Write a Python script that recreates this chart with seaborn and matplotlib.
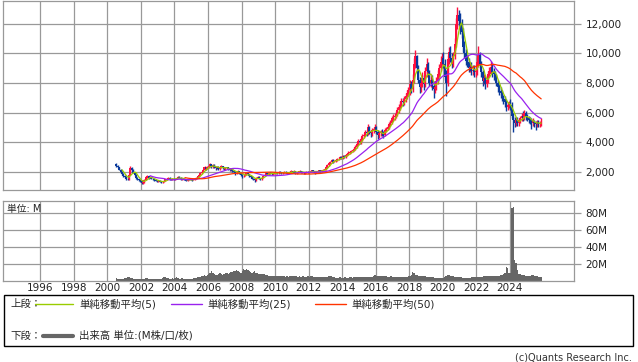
import numpy as np
import pandas as pd
import matplotlib
matplotlib.use("Agg")
import matplotlib.pyplot as plt
import seaborn as sns
from matplotlib.lines import Line2D
from matplotlib.patches import Rectangle
from matplotlib.ticker import FuncFormatter

# monthly candles (Jul 2000 - Nov 2025)
close_2000 = [2400, 2300, 2150, 2000, 1850, 1750]
close_2001 = [1650, 1550, 1500, 1800, 2250, 2150, 1950, 1800, 1600, 1500, 1450, 1380]
close_2002 = [1250, 1300, 1450, 1650, 1700, 1600, 1650, 1550, 1500, 1450, 1400, 1380]
close_2003 = [1400, 1350, 1300, 1320, 1400, 1500, 1550, 1600, 1500, 1480, 1550, 1500]
close_2004 = [1550, 1600, 1650, 1600, 1500, 1550, 1500, 1450, 1400, 1450, 1500, 1480]
close_2005 = [1450, 1500, 1550, 1600, 1700, 1800, 1900, 2000, 2150, 2300, 2200, 2350]
close_2006 = [2400, 2500, 2300, 2450, 2300, 2250, 2350, 2200, 2300, 2400, 2250, 2200]
close_2007 = [2250, 2300, 2200, 2100, 2200, 2050, 2000, 1900, 1950, 2050, 1900, 1800]
close_2008 = [1700, 1750, 1800, 1900, 1850, 1700, 1650, 1550, 1500, 1450, 1600, 1650]
close_2009 = [1550, 1500, 1600, 1750, 1800, 1900, 1850, 1950, 1900, 1850, 1900, 1950]
close_2010 = [1950, 1900, 2000, 1950, 1900, 1950, 2000, 1950, 1900, 1950, 2000, 2050]
close_2011 = [2000, 2050, 1900, 1950, 2000, 2050, 2000, 1950, 1900, 1950, 2000, 1980]
close_2012 = [2000, 2050, 2100, 2000, 1950, 2000, 2050, 2100, 2050, 2100, 2150, 2200]
close_2013 = [2300, 2450, 2600, 2650, 2800, 2700, 2750, 2800, 2850, 2900, 3000, 2950]
close_2014 = [3050, 3000, 3150, 3200, 3300, 3350, 3400, 3450, 3550, 3700, 3900, 4100]
close_2015 = [4000, 4200, 4400, 4500, 4700, 4600, 5000, 4700, 4600, 4800, 4900, 5000]
close_2016 = [4700, 4500, 4600, 4700, 4600, 4500, 4800, 4900, 5000, 5200, 5300, 5600]
close_2017 = [5700, 5800, 5900, 6150, 6400, 6500, 6800, 6700, 6900, 7100, 7300, 7500]
close_2018 = [7900, 7600, 8200, 9300, 9800, 9000, 8200, 7700, 8000, 8300, 7900, 8800]
close_2019 = [9300, 8700, 8000, 8200, 7800, 7600, 7700, 8100, 8600, 9000, 9400, 9700]
close_2020 = [9300, 8400, 8000, 9600, 10100, 9700, 9300, 9800, 10600, 12000, 12600, 12200]
close_2021 = [12000, 11400, 10400, 10000, 9500, 9400, 9000, 9100, 8800, 8900, 8700, 8800]
close_2022 = [9400, 9900, 9300, 8700, 8150, 8300, 7950, 8200, 8600, 8800, 9100, 8700]
close_2023 = [8600, 8350, 8000, 7700, 7480, 7300, 7040, 6900, 6700, 6370, 6500, 6600]
close_2024 = [6500, 5800, 5480, 5280, 5500, 5300, 5480, 5600, 5800, 5600, 5940, 5700]
close_2025 = [5600, 5500, 5480, 5300, 5400, 5280, 5200, 5350, 5250, 5300, 5370]
first_open = 2500

high_2000 = [2620, 2480, 2360, 2200, 2060, 1900]
high_2001 = [1820, 1700, 1600, 1850, 2380, 2300, 2200, 2000, 1850, 1650, 1550, 1500]
high_2002 = [1420, 1350, 1500, 1720, 1780, 1740, 1700, 1680, 1590, 1540, 1480, 1440]
high_2003 = [1450, 1440, 1380, 1360, 1440, 1550, 1600, 1660, 1640, 1540, 1590, 1580]
high_2004 = [1600, 1640, 1710, 1700, 1630, 1580, 1580, 1530, 1480, 1480, 1540, 1530]
high_2005 = [1510, 1540, 1590, 1650, 1750, 1860, 1960, 2060, 2220, 2400, 2360, 2420]
high_2006 = [2480, 2620, 2560, 2500, 2500, 2360, 2420, 2390, 2350, 2460, 2430, 2300]
high_2007 = [2310, 2360, 2340, 2250, 2260, 2240, 2110, 2050, 2000, 2110, 2090, 1950]
high_2008 = [1840, 1790, 1850, 1960, 1950, 1890, 1750, 1690, 1600, 1540, 1660, 1710]
high_2009 = [1690, 1580, 1650, 1790, 1860, 1960, 1950, 2000, 1990, 1940, 1950, 2000]
high_2010 = [2010, 1990, 2040, 2050, 1990, 1990, 2050, 2040, 1990, 1990, 2050, 2100]
high_2011 = [2090, 2100, 2090, 1990, 2040, 2100, 2090, 2040, 1990, 1990, 2040, 2040]
high_2012 = [2050, 2100, 2150, 2140, 2040, 2040, 2090, 2140, 2140, 2140, 2200, 2260]
high_2013 = [2380, 2530, 2700, 2760, 2900, 2880, 2820, 2870, 2920, 2970, 3080, 3100]
high_2014 = [3150, 3150, 3230, 3300, 3390, 3440, 3480, 3540, 3650, 3820, 4020, 4250]
high_2015 = [4250, 4350, 4550, 4650, 4850, 4850, 5250, 5100, 4850, 4950, 5050, 5200]
high_2016 = [5100, 4850, 4750, 4850, 4900, 4750, 4950, 5050, 5150, 5350, 5500, 5800]
high_2017 = [5900, 6000, 6100, 6350, 6600, 6750, 7000, 6950, 7100, 7350, 7550, 7750]
high_2018 = [8200, 8100, 8600, 9700, 10200, 9900, 9200, 8400, 8300, 8700, 8500, 9100]
high_2019 = [9700, 9400, 8900, 8600, 8500, 8100, 8000, 8400, 8900, 9300, 9800, 10000]
high_2020 = [10100, 9600, 8900, 9900, 10400, 10500, 10000, 10100, 11000, 12400, 13100, 12900]
high_2021 = [12700, 12300, 11700, 10800, 10300, 9900, 9700, 9400, 9400, 9200, 9200, 9100]
high_2022 = [9700, 10500, 10100, 9500, 8900, 8600, 8500, 8400, 8800, 9100, 9500, 9300]
high_2023 = [9000, 8800, 8600, 8200, 7900, 7700, 7500, 7200, 7100, 6900, 6700, 6800]
high_2024 = [6900, 6700, 6000, 5700, 5700, 5700, 5600, 5800, 6000, 6100, 6200, 6100]
high_2025 = [5900, 5800, 5700, 5600, 5600, 5500, 5400, 5500, 5500, 5450, 5600]

low_2000 = [2350, 2230, 2100, 1950, 1790, 1680]
low_2001 = [1600, 1480, 1420, 1460, 1760, 2050, 1900, 1740, 1540, 1440, 1380, 1300]
low_2002 = [1200, 1200, 1280, 1420, 1600, 1550, 1560, 1510, 1450, 1400, 1360, 1320]
low_2003 = [1330, 1320, 1260, 1260, 1300, 1380, 1460, 1510, 1460, 1430, 1450, 1470]
low_2004 = [1460, 1520, 1570, 1560, 1460, 1470, 1470, 1420, 1360, 1370, 1430, 1440]
low_2005 = [1410, 1420, 1470, 1520, 1580, 1680, 1770, 1870, 1970, 2100, 2140, 2170]
low_2006 = [2290, 2350, 2250, 2270, 2240, 2150, 2190, 2140, 2150, 2240, 2200, 2140]
low_2007 = [2140, 2200, 2140, 2040, 2050, 1990, 1940, 1820, 1840, 1910, 1870, 1740]
low_2008 = [1620, 1640, 1700, 1760, 1800, 1660, 1590, 1510, 1420, 1340, 1400, 1560]
low_2009 = [1490, 1420, 1450, 1560, 1710, 1760, 1800, 1820, 1850, 1790, 1810, 1870]
low_2010 = [1890, 1850, 1860, 1910, 1850, 1860, 1910, 1910, 1860, 1870, 1920, 1960]
low_2011 = [1950, 1960, 1840, 1860, 1920, 1960, 1950, 1900, 1850, 1860, 1910, 1940]
low_2012 = [1940, 1960, 2010, 1960, 1890, 1910, 1960, 2010, 2010, 2010, 2060, 2110]
low_2013 = [2150, 2250, 2400, 2530, 2600, 2620, 2640, 2690, 2740, 2790, 2850, 2880]
low_2014 = [2850, 2920, 2950, 3080, 3130, 3220, 3280, 3330, 3390, 3480, 3640, 3830]
low_2015 = [3850, 3900, 4100, 4300, 4400, 4450, 4500, 4550, 4350, 4450, 4650, 4750]
low_2016 = [4550, 4250, 4300, 4450, 4450, 4300, 4400, 4700, 4800, 4900, 5100, 5200]
low_2017 = [5400, 5500, 5600, 5750, 6000, 6200, 6350, 6450, 6500, 6700, 6900, 7100]
low_2018 = [7200, 7300, 7400, 8000, 9000, 8700, 8000, 7300, 7400, 7700, 7500, 7700]
low_2019 = [8400, 8500, 7800, 7700, 7500, 7000, 7300, 7500, 7900, 8400, 8800, 9200]
low_2020 = [9000, 8200, 7100, 7800, 9300, 9400, 9000, 9100, 9600, 10400, 11600, 11800]
low_2021 = [11300, 11000, 10100, 9700, 9200, 9100, 8700, 8700, 8500, 8500, 8400, 8400]
low_2022 = [8500, 9100, 9000, 8400, 7800, 7900, 7600, 7700, 8000, 8400, 8600, 8400]
low_2023 = [8200, 8100, 7800, 7400, 7200, 7000, 6800, 6600, 6400, 6100, 6200, 6300]
low_2024 = [6200, 5600, 4700, 5000, 5100, 5100, 5100, 5300, 5400, 5400, 5500, 5500]
low_2025 = [5400, 5300, 5200, 4900, 5100, 5000, 4800, 5000, 5000, 5050, 5100]

# monthly volume, millions of shares
vol_2000 = [3, 2.5, 2.5, 2, 2, 2.5]
vol_2001 = [3, 3.5, 4.5, 4, 3.5, 3, 2.5, 2.5, 2, 2, 2.5, 2.5]
vol_2002 = [2.5, 2, 2.5, 3, 3, 2.5, 2.5, 2, 2, 2.5, 2.5, 2]
vol_2003 = [2, 2, 2.5, 3, 4, 4.5, 3.5, 3, 2.5, 2.5, 3, 2.5]
vol_2004 = [3, 4, 3, 2.5, 2.5, 3, 2.5, 2, 2, 2.5, 2.5, 2.5]
vol_2005 = [2.5, 3, 3, 3.5, 4, 4.5, 4.5, 5, 6, 7, 6, 7]
vol_2006 = [8, 9, 11.5, 9, 7.5, 7, 7, 8, 8.5, 7.5, 7, 8]
vol_2007 = [9, 8.5, 8, 9, 10, 10.5, 11, 12, 12.5, 11, 10, 9.5]
vol_2008 = [12, 14, 13, 14, 12.5, 11, 10, 9.5, 10, 11, 9, 8.5]
vol_2009 = [8, 7.5, 7.5, 8, 7.5, 7, 6.5, 6, 6, 5.5, 5.5, 5]
vol_2010 = [5, 5, 5.5, 5, 5, 5, 5, 4.5, 5, 4.5, 5, 5]
vol_2011 = [5, 5, 5.5, 5, 4.5, 5, 4.5, 5, 5, 4.5, 4.5, 5]
vol_2012 = [4.5, 5, 5, 4.5, 4.5, 4.5, 4, 4.5, 4.5, 4, 4.5, 4.5]
vol_2013 = [4, 4.5, 5, 5.5, 5, 4, 4, 3.5, 3.5, 3.5, 4, 3.5]
vol_2014 = [3.5, 4, 4, 3.5, 3.5, 4, 4, 3.5, 4, 4, 4, 4]
vol_2015 = [4, 4.5, 4, 4, 4.5, 4, 4, 4, 4, 4.5, 6, 6.5]
vol_2016 = [6, 6, 5.5, 5, 5, 5, 5, 5, 4.5, 4.5, 5, 5]
vol_2017 = [4.5, 4.5, 4.5, 4, 4.5, 4.5, 4, 4.5, 4.5, 4, 4.5, 5]
vol_2018 = [5, 7, 10.5, 9, 7, 6.5, 6, 5.5, 5.5, 5, 5, 5]
vol_2019 = [4.5, 4, 4, 4.5, 4, 4, 3.5, 3.5, 3.5, 3.5, 3.5, 3.5]
vol_2020 = [3.5, 4, 5, 6.5, 6.5, 6, 5.5, 5, 4.5, 4.5, 4, 4]
vol_2021 = [4, 4, 3.5, 3.5, 3.5, 3.5, 3.5, 3.5, 4, 4, 4, 4]
vol_2022 = [4, 4, 4, 4.5, 4.5, 5, 5, 5, 5.5, 5, 5, 5.5]
vol_2023 = [5.5, 5, 5, 5.5, 6, 6.5, 7, 8, 9, 16.5, 15, 8.5]
vol_2024 = [9, 86, 87, 25, 21, 12.5, 8, 7.5, 6.5, 6.5, 7, 6]
vol_2025 = [5.5, 5.5, 6, 7, 6.5, 5.5, 5, 5, 4.5, 4.5, 4]

year_ticks = list(range(1996, 2025, 2))
price_ticks = [2000, 4000, 6000, 8000, 10000, 12000]
vol_ticks = [20, 40, 60, 80]


def join(*parts):
    return np.array(sum(parts, []), dtype=float)


closes = join(close_2000, close_2001, close_2002, close_2003, close_2004, close_2005,
              close_2006, close_2007, close_2008, close_2009, close_2010, close_2011,
              close_2012, close_2013, close_2014, close_2015, close_2016, close_2017,
              close_2018, close_2019, close_2020, close_2021, close_2022, close_2023,
              close_2024, close_2025)
highs = join(high_2000, high_2001, high_2002, high_2003, high_2004, high_2005,
             high_2006, high_2007, high_2008, high_2009, high_2010, high_2011,
             high_2012, high_2013, high_2014, high_2015, high_2016, high_2017,
             high_2018, high_2019, high_2020, high_2021, high_2022, high_2023,
             high_2024, high_2025)
lows = join(low_2000, low_2001, low_2002, low_2003, low_2004, low_2005,
            low_2006, low_2007, low_2008, low_2009, low_2010, low_2011,
            low_2012, low_2013, low_2014, low_2015, low_2016, low_2017,
            low_2018, low_2019, low_2020, low_2021, low_2022, low_2023,
            low_2024, low_2025)
volume = join(vol_2000, vol_2001, vol_2002, vol_2003, vol_2004, vol_2005,
              vol_2006, vol_2007, vol_2008, vol_2009, vol_2010, vol_2011,
              vol_2012, vol_2013, vol_2014, vol_2015, vol_2016, vol_2017,
              vol_2018, vol_2019, vol_2020, vol_2021, vol_2022, vol_2023,
              vol_2024, vol_2025)

n = len(closes)
t = 2000.5 + (np.arange(n) + 0.5) / 12.0   # mid-month as decimal year
opens = np.concatenate([[first_open], closes[:-1]])

df = pd.DataFrame({"t": t, "open": opens, "high": highs, "low": lows,
                   "close": closes, "vol": volume})
df["ma5"] = df["close"].rolling(5).mean()
df["ma25"] = df["close"].rolling(25).mean()
df["ma50"] = df["close"].rolling(50).mean()

sns.set_style("white")
plt.rcParams["font.family"] = ["DejaVu Sans", "Noto Sans CJK JP"]

W, H = 638, 362
fig = plt.figure(figsize=(W / 100, H / 100), dpi=100)


def fx(px):
    return px / W


def fy(py):
    return 1 - py / H


x0, x1 = 3.3, 574.3
ax1 = fig.add_axes([fx(x0), fy(189.7), fx(x1 - x0), (189.7 - 0.5) / H])
ax2 = fig.add_axes([fx(x0), fy(280.7), fx(x1 - x0), (280.7 - 201) / H])

grid_c = "#999999"
up_c, down_c = "#ff1040", "#0a3a9c"

# candles: wicks then bodies
cols = np.where(df["close"] >= df["open"], up_c, down_c)
ax1.vlines(df["t"], df["low"], df["high"], colors=cols, lw=1.0, zorder=2)
lo = np.minimum(df["open"], df["close"])
hi = np.maximum(df["open"], df["close"])
ax1.bar(df["t"], hi - lo, bottom=lo, width=0.12, color=cols, linewidth=0, zorder=2)

ma_colors = {"ma5": "#99cc00", "ma25": "#9922ee", "ma50": "#ff3300"}
for col, c in ma_colors.items():
    d = df.dropna(subset=[col])
    sns.lineplot(data=d, x="t", y=col, ax=ax1, color=c, lw=0.9, zorder=3)

ax2.bar(df["t"], df["vol"], width=1 / 12, color="#666666", linewidth=0, zorder=2)

for ax in (ax1, ax2):
    ax.set_xlim(1993.79, 2027.85)
    ax.set_xticks(year_ticks)
    ax.grid(True, color=grid_c, lw=0.9)
    ax.set_axisbelow(True)
    for s in ax.spines.values():
        s.set_color(grid_c)
        s.set_linewidth(0.9)
    ax.yaxis.tick_right()
    ax.tick_params(axis="y", length=5, color=grid_c, width=0.9,
                   labelsize=7.5, pad=3, labelcolor="#222222")
    ax.set_xlabel("")
    ax.set_ylabel("")

ax1.set_ylim(800, 13550)
ax1.set_yticks(price_ticks)
ax1.yaxis.set_major_formatter(FuncFormatter(lambda v, p: f"{int(v):,}"))
ax1.tick_params(axis="x", length=0, labelbottom=False)

ax2.set_ylim(0, 94)
ax2.set_yticks(vol_ticks)
ax2.yaxis.set_major_formatter(FuncFormatter(lambda v, p: f"{int(v)}M"))
ax2.tick_params(axis="x", length=0, labelsize=7.5, pad=2, labelcolor="#222222")

fig.text(fx(7), fy(209), "単位: M", fontsize=7, va="center", ha="left")

# legend box
fig.add_artist(Rectangle((fx(3.5), fy(346)), fx(633 - 3.5), (346 - 295) / H,
                         transform=fig.transFigure, fill=False, ec="black", lw=1))
r1, r2 = 304, 335.5
fs = 7.5
fig.text(fx(10), fy(r1), "上段：", fontsize=fs, va="center")
fig.text(fx(10), fy(r2), "下段：", fontsize=fs, va="center")
legend_rows = [
    (35, 73, 79, r1, "#99cc00", 1.0, "単純移動平均(5)"),
    (171, 202, 207, r1, "#9922ee", 1.0, "単純移動平均(25)"),
    (315, 346, 351, r1, "#ff3300", 1.0, "単純移動平均(50)"),
    (43, 73, 79, r2, "#666666", 3.0, "出来高 単位:(M株/口/枚)"),
]
for a, b, tx, ry, c, lw, label in legend_rows:
    fig.add_artist(Line2D([fx(a), fx(b)], [fy(ry), fy(ry)], transform=fig.transFigure,
                          color=c, lw=lw))
    fig.text(fx(tx), fy(ry), label, fontsize=fs, va="center")

fig.text(fx(632), fy(357), "(c)Quants Research Inc.", fontsize=7, ha="right",
         va="center", color="#333333")

fig.savefig("out.png", dpi=100)
